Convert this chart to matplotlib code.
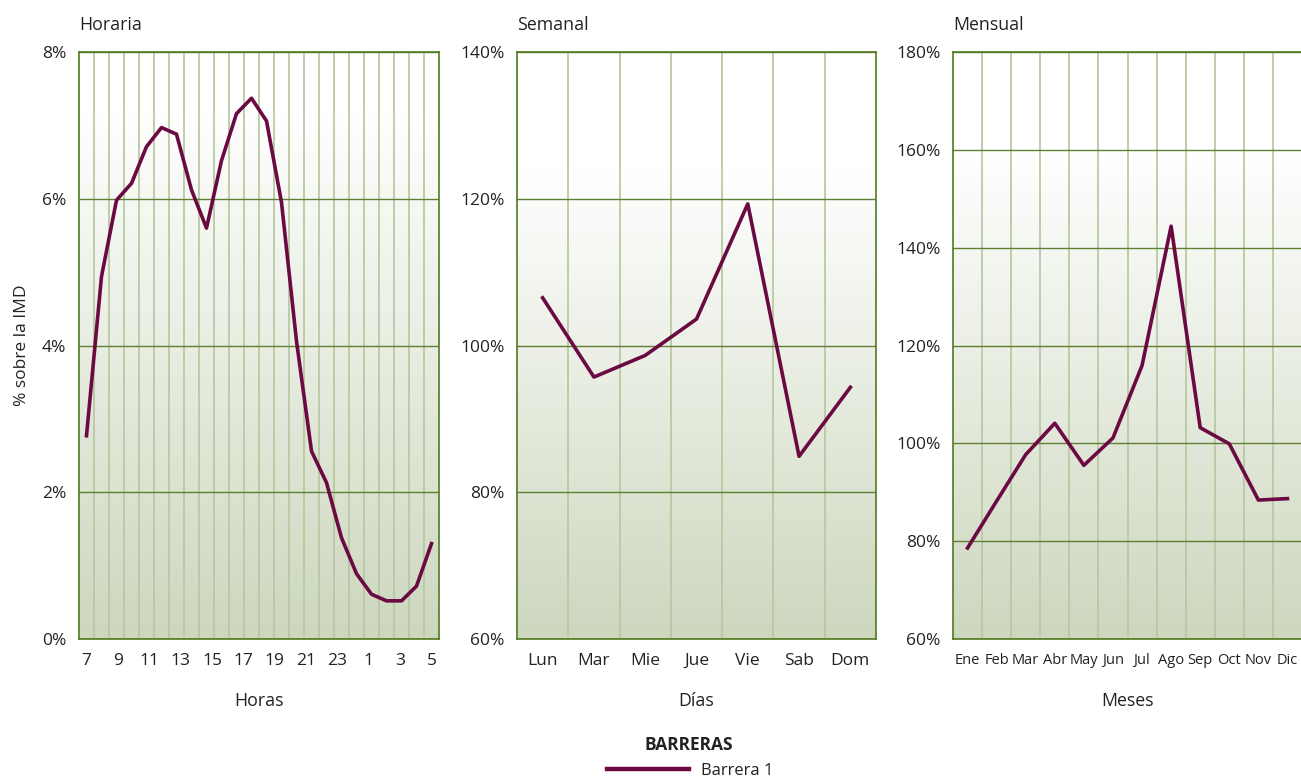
import numpy as np
import matplotlib.pyplot as plt
from matplotlib.ticker import FuncFormatter, MultipleLocator

plt.rcParams['font.family'] = ['Open Sans', 'DejaVu Sans']

# data
horas = [7, 8, 9, 10, 11, 12, 13, 14, 15, 16, 17, 18, 19, 20, 21, 22, 23, 0, 1, 2, 3, 4, 5, 6]
horas_etiquetas = ['7', '9', '11', '13', '15', '17', '19', '21', '23', '1', '3', '5']
horaria = [2.77, 4.94, 5.98, 6.21, 6.71, 6.97, 6.88, 6.12, 5.60, 6.52, 7.16, 7.37,
           7.06, 5.95, 4.06, 2.56, 2.13, 1.38, 0.89, 0.61, 0.52, 0.52, 0.72, 1.30]

dias = ['Lun', 'Mar', 'Mie', 'Jue', 'Vie', 'Sab', 'Dom']
semanal = [106.5, 95.7, 98.65, 103.6, 119.3, 84.9, 94.3]

meses = ['Ene', 'Feb', 'Mar', 'Abr', 'May', 'Jun', 'Jul', 'Ago', 'Sep', 'Oct', 'Nov', 'Dic']
mensual = [78.6, 88.2, 97.7, 104.1, 95.5, 101.1, 115.9, 144.4, 103.2, 99.9, 88.4, 88.7]

LINE = '#6b0a42'
SPINE = '#4f7a1f'
HGRID = '#5f7f35'
VGRID = '#b9c9a3'
BOTTOM = np.array([205, 215, 190]) / 255
TEXT = '#222222'

W, H = 1301, 781
fig = plt.figure(figsize=(W / 100, H / 100), dpi=100)


def make_axes(left, right, top=52, bottom=639):
    return fig.add_axes([left / W, (H - bottom) / H, (right - left) / W, (bottom - top) / H])


def background(ax, white_frac):
    t = np.linspace(0, 1, 300)
    k = np.clip((t - white_frac) / (1 - white_frac), 0, 1)
    col = (1 - k)[:, None] * np.ones(3) + k[:, None] * BOTTOM
    ax.imshow(col[:, None, :], extent=[0, 1, 0, 1], transform=ax.transAxes,
              aspect='auto', zorder=0, interpolation='bilinear')


def style(ax, n, title, xlabel, white_frac):
    background(ax, white_frac)
    ax.set_xlim(-0.5, n - 0.5)
    ax.set_xticks(np.arange(n - 1) + 0.5, minor=True)
    ax.grid(which='minor', axis='x', color=VGRID, lw=1.3, zorder=1)
    ax.grid(which='major', axis='y', color=HGRID, lw=1.0, zorder=1)
    ax.tick_params(which='both', length=0)
    ax.tick_params(axis='y', pad=9, labelsize=12.5, labelcolor=TEXT)
    ax.tick_params(axis='x', pad=10, labelsize=12.5, labelcolor=TEXT)
    for s in ax.spines.values():
        s.set_color(SPINE)
        s.set_linewidth(1.2)
    ax.yaxis.set_major_formatter(FuncFormatter(lambda v, p: f'{v:.0f}%'))
    ax.text(0, 1.03, title, transform=ax.transAxes, fontsize=12.8, color=TEXT,
            ha='left', va='bottom')
    ax.set_xlabel(xlabel, fontsize=12.8, color=TEXT, labelpad=17)


# Horaria
ax1 = make_axes(79, 439)
ax1.plot(np.arange(len(horas)), horaria, color=LINE, lw=2.6, zorder=3)
ax1.set_ylim(0, 8)
ax1.yaxis.set_major_locator(MultipleLocator(2))
ax1.set_xticks(np.linspace(0, len(horas) - 1, len(horas_etiquetas)))
ax1.set_xticklabels(horas_etiquetas)
style(ax1, len(horas), 'Horaria', 'Horas', 0.1)
ax1.set_ylabel('% sobre la IMD', fontsize=12.5, color=TEXT, labelpad=9)

# Semanal
ax2 = make_axes(517, 876)
ax2.plot(np.arange(len(dias)), semanal, color=LINE, lw=2.6, zorder=3)
ax2.set_ylim(60, 140)
ax2.yaxis.set_major_locator(MultipleLocator(20))
ax2.set_xticks(np.arange(len(dias)))
ax2.set_xticklabels(dias)
style(ax2, len(dias), 'Semanal', 'Días', 0.2)

# Mensual
ax3 = make_axes(953, 1302)
ax3.plot(np.arange(len(meses)), mensual, color=LINE, lw=2.6, zorder=3)
ax3.set_ylim(60, 180)
ax3.yaxis.set_major_locator(MultipleLocator(20))
ax3.set_xticks(np.arange(len(meses)))
ax3.set_xticklabels(meses)
style(ax3, len(meses), 'Mensual', 'Meses', 0.17)
ax3.tick_params(axis='x', labelsize=10.5)

# legend
fig.text(689 / W, 1 - 745 / H, 'BARRERAS', ha='center', va='center',
         fontsize=12.5, fontweight='bold', color=TEXT)
leg = fig.legend(handles=[plt.Line2D([], [], color=LINE, lw=3.2)], labels=['Barrera 1'],
                 loc='center left', bbox_to_anchor=(597 / W, 1 - 771 / H),
                 frameon=False, handlelength=4.9, fontsize=12, handletextpad=0.75,
                 borderpad=0.1)
for t in leg.get_texts():
    t.set_color(TEXT)

fig.savefig('out.png', dpi=100)
